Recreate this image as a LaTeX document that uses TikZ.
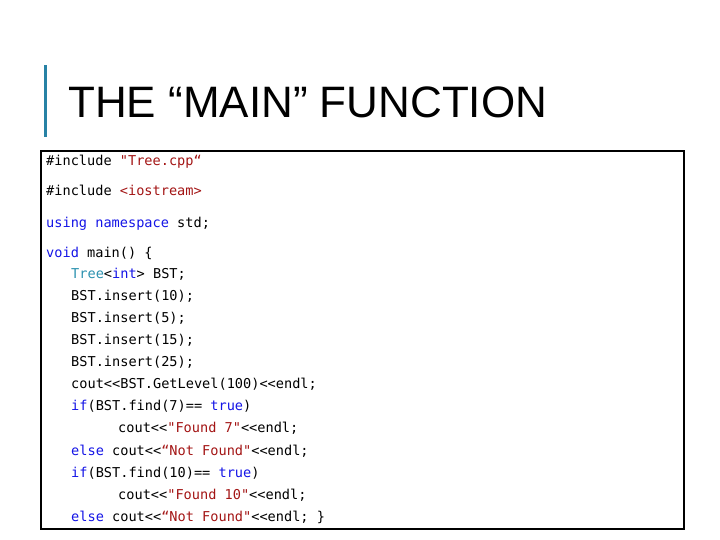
\documentclass[tikz,border=0pt]{standalone}
\usepackage{fontspec}
\setmainfont{Liberation Sans}
\setmonofont{DejaVu Sans Mono}
\definecolor{kw}{RGB}{20,20,230}
\definecolor{str}{RGB}{163,21,21}
\definecolor{typ}{RGB}{43,145,175}
\definecolor{bar}{RGB}{40,130,165}
\newcommand{\K}[1]{\textcolor{kw}{#1}}
\newcommand{\St}[1]{\textcolor{str}{#1}}
\newcommand{\Ty}[1]{\textcolor{typ}{#1}}
\tikzset{code/.style={anchor=base west,inner sep=0pt,font=\fontsize{13.6}{14}\selectfont\ttfamily},
title/.style={anchor=base west,inner sep=0pt,font=\fontsize{44}{50}\selectfont}}
\begin{document}
\begin{tikzpicture}[x=1pt,y=-1pt]
\useasboundingbox (0,0) rectangle (720,540);
\fill[bar] (44,65) rectangle (47,137) node[coordinate](barn){};
\node[title] (t) at (68,118) {THE “MAIN” FUNCTION};
\draw[line width=2pt] (41,151) rectangle (684,529) node[coordinate](box){};
\node[code] (l1) at (46,166) {\#include \St{"Tree.cpp“}};
\node[code] (l2) at (46,196) {\#include \St{<iostream>}};
\node[code] (l3) at (46,227) {\K{using namespace} std;};
\node[code] (l4) at (46,257) {\K{void} main() \{};
\node[code] (l5) at (71,278) {\Ty{Tree}<\K{int}> BST;};
\node[code] (l6) at (71,300) {BST.insert(10);};
\node[code] (l7) at (71,322) {BST.insert(5);};
\node[code] (l8) at (71,344) {BST.insert(15);};
\node[code] (l9) at (71,366) {BST.insert(25);};
\node[code] (l10) at (71,388) {cout<<BST.GetLevel(100)<<endl;};
\node[code] (l11) at (71,410) {\K{if}(BST.find(7)== \K{true})};
\node[code] (l12) at (118,432) {cout<<\St{"Found 7"}<<endl;};
\node[code] (l13) at (71,455) {\K{else} cout<<\St{“Not Found"}<<endl;};
\node[code] (l14) at (71,477) {\K{if}(BST.find(10)== \K{true})};
\node[code] (l15) at (118,499) {cout<<\St{"Found 10"}<<endl;};
\node[code] (l16) at (71,521) {\K{else} cout<<\St{“Not Found"}<<endl; \}};
\end{tikzpicture}
\end{document}
